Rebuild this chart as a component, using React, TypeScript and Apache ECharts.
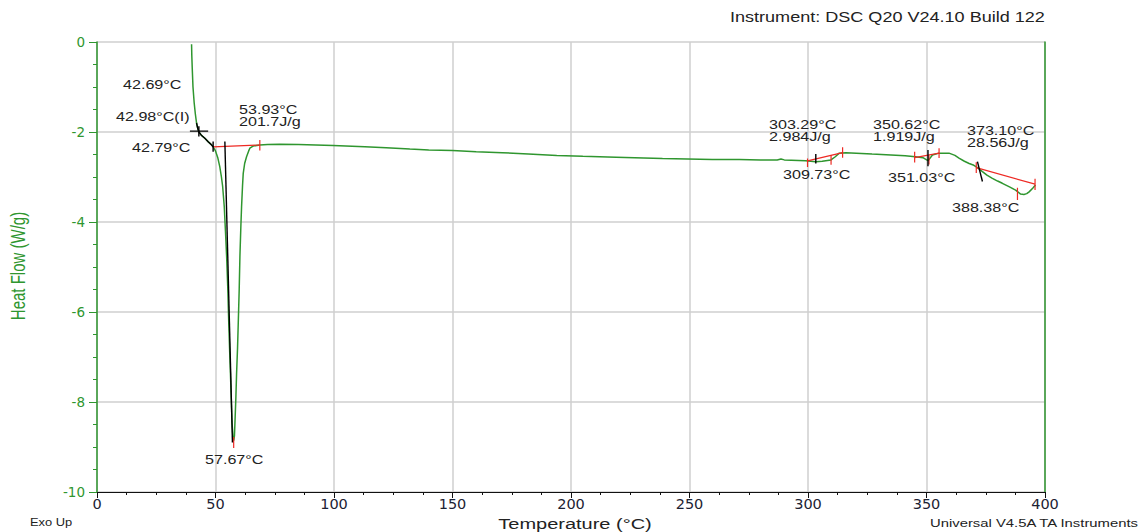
import { useEffect, useRef } from "react";
import * as echarts from "echarts";

// DSC heat-flow trace: temperature (°C) and heat flow (W/g)
const temperature = [
  39.9, 40.0, 40.2, 40.5, 41.0, 41.5, 42.0, 42.5, 43.0, 44.0, 45.5, 47.0, 48.2, 49.0,
  50.0, 51.0, 51.8, 52.5, 53.0, 53.7, 54.2, 54.7, 55.2, 55.6, 56.0, 56.3, 56.7, 57.0,
  57.4, 57.67, 58.0, 58.2, 58.6, 58.9, 59.3, 59.6, 60.0, 60.3, 60.7, 61.0, 61.4, 61.7,
  62.3, 63.1, 64.0, 64.5, 66.0, 68.7, 72, 77, 85, 99.6, 113, 122, 132, 140, 150, 160,
  171, 182, 194, 205, 219, 238.6, 259.6, 271, 280, 287, 288.6, 290, 299, 303.3, 306,
  309.7, 311.5, 313.2, 316, 327, 335, 341, 345.3, 348.5, 350.4, 350.8, 352.5, 355.3,
  359.5, 362, 363.7, 366, 368, 370, 371.5, 373.6, 375.5, 377.8, 380, 382, 385, 387.6,
  389.7, 391.1, 392.3, 393.3, 394.8, 396,
];
const heatFlow = [
  -0.05, -0.3, -0.6, -1.0, -1.35, -1.6, -1.8, -1.92, -2.0, -2.07, -2.14, -2.22, -2.28, -2.33,
  -2.42, -2.58, -2.77, -3.0, -3.2, -3.66, -4.2, -4.77, -5.5, -6.25, -6.9, -7.36, -8.0, -8.47,
  -8.8, -8.86, -8.75, -8.47, -7.9, -7.36, -6.8, -6.25, -5.5, -4.77, -4.1, -3.66, -3.2, -2.92,
  -2.7, -2.55, -2.42, -2.36, -2.31, -2.29, -2.28, -2.27, -2.28, -2.3, -2.33, -2.35, -2.38, -2.4, -2.41, -2.44,
  -2.46, -2.49, -2.52, -2.54, -2.56, -2.59, -2.61, -2.61, -2.62, -2.62, -2.6, -2.62, -2.64, -2.66, -2.65,
  -2.62, -2.55, -2.47, -2.46, -2.49, -2.51, -2.53, -2.55, -2.57, -2.63, -2.63, -2.51, -2.47,
  -2.47, -2.52, -2.58, -2.65, -2.7, -2.74, -2.79, -2.88, -2.96, -3.03, -3.09, -3.14, -3.22, -3.29,
  -3.38, -3.39, -3.37, -3.33, -3.25, -3.18,
];

// Integration baselines and limit/peak markers (red)
const baselines: number[][][] = [
  [[49.0, -2.33], [68.7, -2.29]],
  [[299.8, -2.64], [314.6, -2.46]],
  [[345.0, -2.57], [355.3, -2.47]],
  [[371.0, -2.79], [395.8, -3.16]],
];
const redTicks: number[][][] = [
  [[68.7, -2.18], [68.7, -2.41]],
  [[57.67, -8.78], [57.67, -9.02]],
  [[299.8, -2.59], [299.8, -2.78]],
  [[309.73, -2.51], [309.73, -2.73]],
  [[314.6, -2.34], [314.6, -2.57]],
  [[345.0, -2.44], [345.0, -2.68]],
  [[351.03, -2.52], [351.03, -2.72]],
  [[355.3, -2.36], [355.3, -2.58]],
  [[371.0, -2.67], [371.0, -2.91]],
  [[388.38, -3.24], [388.38, -3.51]],
  [[395.8, -3.04], [395.8, -3.29]],
];
// Glass transition analysis, onset tangents and onset markers (black)
const blackMarks: number[][][] = [
  [[42.0, -1.8], [42.5, -1.92], [43.0, -2.0], [44.0, -2.07], [45.5, -2.14], [47.0, -2.22], [48.2, -2.28], [49.0, -2.33]],
  [[39.2, -1.98], [46.9, -1.98]],
  [[42.98, -1.87], [42.98, -2.1]],
  [[49.0, -2.21], [49.0, -2.44]],
  [[53.95, -2.21], [57.15, -8.9]],
  [[303.29, -2.49], [303.29, -2.7]],
  [[350.62, -2.4], [350.62, -2.76]],
  [[371.5, -2.66], [373.6, -3.1]],
];

const annotationTexts = [
  "42.69°C", "42.98°C(I)", "42.79°C", "53.93°C", "201.7J/g", "57.67°C",
  "303.29°C", "2.984J/g", "309.73°C", "350.62°C", "1.919J/g", "351.03°C",
  "373.10°C", "28.56J/g", "388.38°C",
];
const annotationPlaces = [
  [123, 85], [116, 117], [132, 148], [239, 110], [239, 122], [205, 460],
  [769, 125], [769, 137], [783, 175], [873, 125], [873, 137], [888, 178],
  [967, 131], [967, 143], [952, 208],
];

const xTicks = { min: 0, max: 400, interval: 50 };
const yTicks = { min: -10, max: 0, interval: 2 };

const GREEN = "#2f962f";
const RED = "#ee2a24";
const INK = "#222222";
const SANS = '"Liberation Sans", Arial, sans-serif';
const STRETCH = 1.29;

function segSeries(segs: number[][][], color: string, width: number, z: number) {
  return segs.map((seg) => ({
    type: "line",
    data: seg,
    symbol: "none",
    silent: true,
    z,
    lineStyle: { color, width },
  }));
}

function label(text: string, x: number, y: number, size: number, fill = INK, align = "left") {
  return {
    type: "text",
    x,
    y,
    scaleX: STRETCH,
    z: 100,
    silent: true,
    style: { text, fill, fontSize: size, fontFamily: SANS, align, verticalAlign: "middle" },
  };
}

export default function App() {
  const ref = useRef<HTMLDivElement>(null);

  useEffect(() => {
    if (!ref.current) return;
    const chart = echarts.init(ref.current, undefined, { renderer: "svg" });
    const curve = temperature.map((t, i) => [t, heatFlow[i]]);

    const graphics: any[] = annotationTexts.map((t, i) =>
      label(t, annotationPlaces[i][0], annotationPlaces[i][1], 12.5)
    );
    graphics.push(label("Instrument: DSC Q20 V24.10 Build 122", 730, 17, 14));
    graphics.push(label("Temperature (°C)", 575, 524, 15.5, INK, "center"));
    graphics.push(label("Exo Up", 30, 523, 10));
    graphics.push(label("Universal V4.5A TA Instruments", 930, 523, 11.5));
    graphics.push({
      type: "text",
      x: 18,
      y: 266,
      rotation: Math.PI / 2,
      scaleY: STRETCH,
      silent: true,
      style: {
        text: "Heat Flow (W/g)",
        fill: GREEN,
        fontSize: 15,
        fontFamily: SANS,
        align: "center",
        verticalAlign: "middle",
      },
    });

    chart.setOption({
      animation: false,
      backgroundColor: "#ffffff",
      grid: { left: 97, right: 100, top: 42, bottom: 40 },
      xAxis: {
        type: "value",
        ...xTicks,
        axisLine: { show: true, onZero: false, lineStyle: { color: "#111", width: 1.2 } },
        axisTick: { show: true, inside: false, length: 6, lineStyle: { color: "#111" } },
        minorTick: { show: true, splitNumber: 4, length: 3, lineStyle: { color: "#111" } },
        splitLine: { show: true, lineStyle: { color: "#cfcfcf", width: 1.5 } },
        axisLabel: { color: "#1c2233", fontSize: 14.5, fontFamily: '"DejaVu Sans", sans-serif', margin: 4 },
      },
      yAxis: [
        {
          type: "value",
          ...yTicks,
          position: "left",
          axisLine: { show: true, onZero: false, lineStyle: { color: GREEN, width: 1.5 } },
          axisTick: { show: true, inside: false, length: 8, lineStyle: { color: GREEN } },
          minorTick: { show: true, splitNumber: 4, length: 4, lineStyle: { color: GREEN } },
          splitLine: { show: true, lineStyle: { color: "#cfcfcf", width: 1.5 } },
          axisLabel: { color: GREEN, fontSize: 13.5, fontFamily: '"DejaVu Sans", sans-serif', margin: 12 },
        },
        {
          type: "value",
          ...yTicks,
          position: "right",
          axisLine: { show: true, onZero: false, lineStyle: { color: GREEN, width: 1.5 } },
          axisTick: { show: false },
          axisLabel: { show: false },
          splitLine: { show: false },
        },
      ],
      series: [
        {
          type: "line",
          data: curve,
          symbol: "none",
          silent: true,
          z: 3,
          lineStyle: { color: GREEN, width: 1.5 },
        },
        ...segSeries(baselines, RED, 1.2, 4),
        ...segSeries(redTicks, RED, 1.2, 4),
        ...segSeries(blackMarks, "#000000", 1.4, 5),
      ],
      graphic: graphics,
    });

    return () => chart.dispose();
  }, []);

  return (
    <div
      ref={ref}
      style={{ position: "absolute", left: 0, top: 0, width: 1145, height: 532, background: "#fff" }}
    />
  );
}
